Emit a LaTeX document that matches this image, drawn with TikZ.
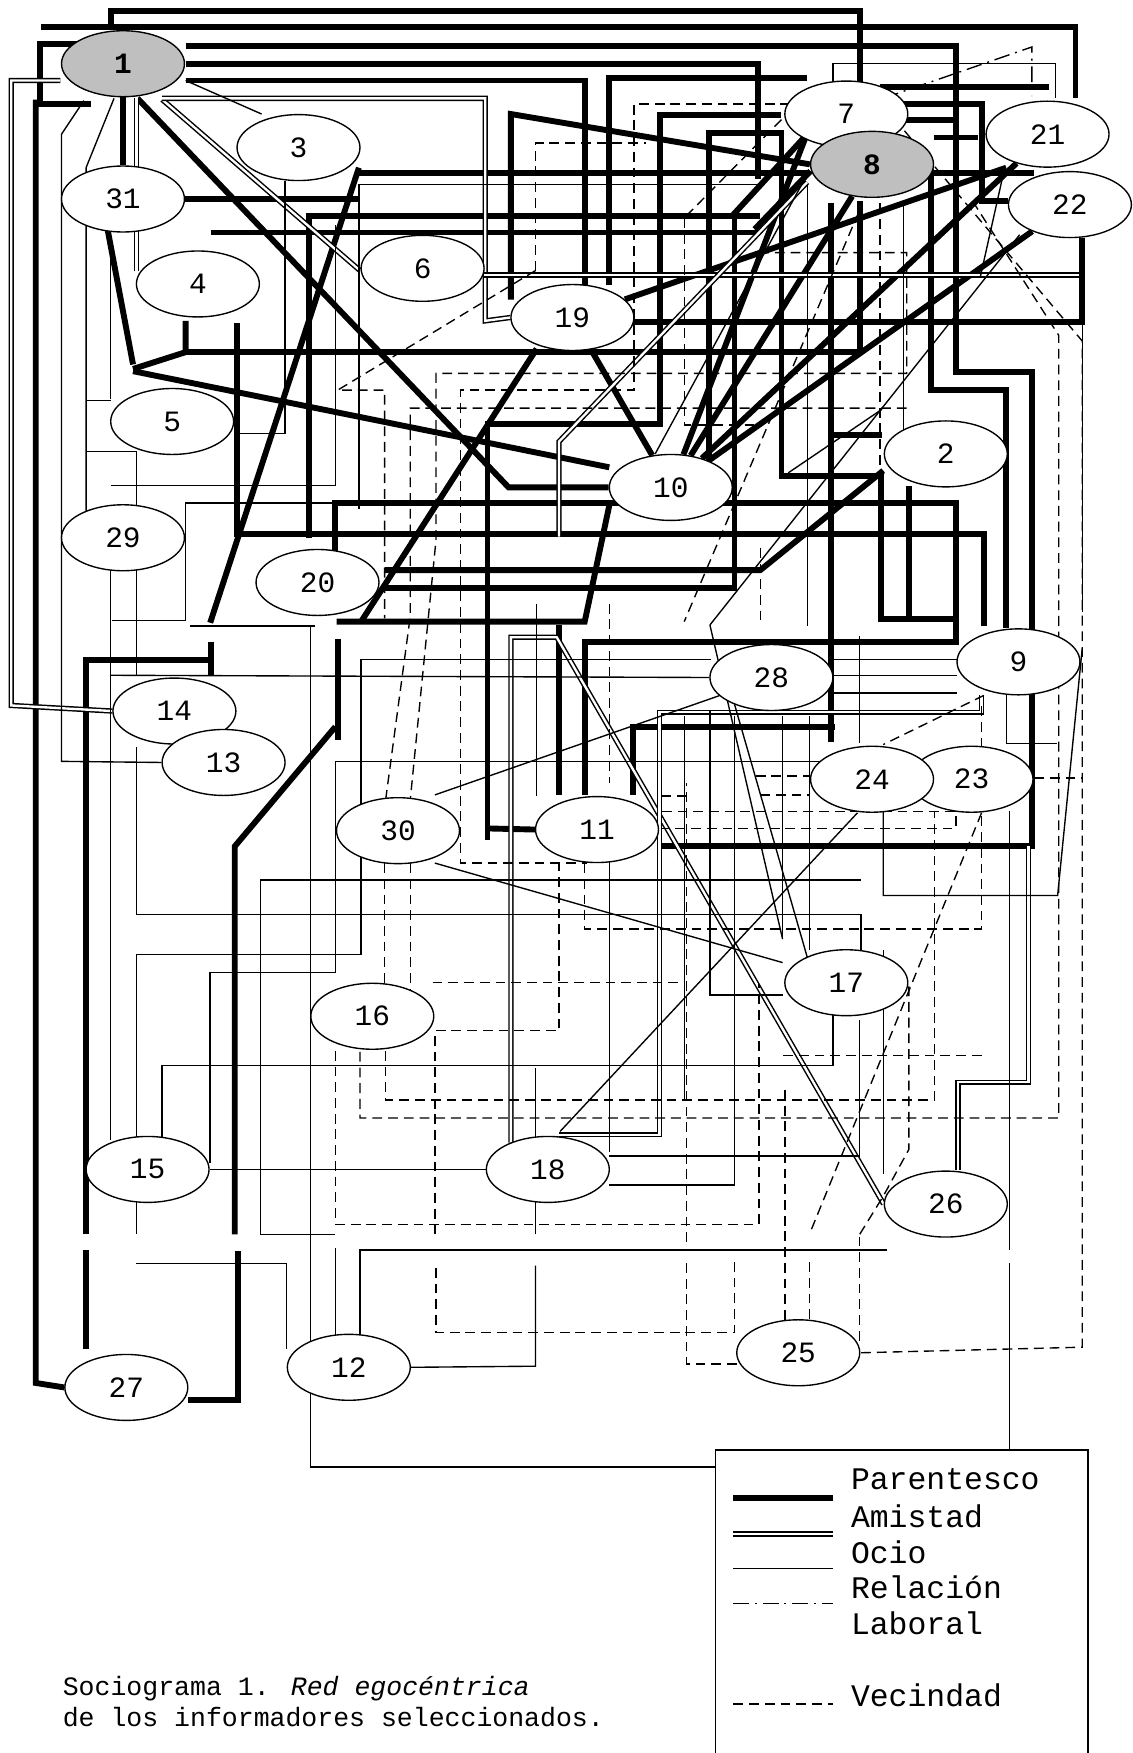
\documentclass[tikz,border=0pt]{standalone}
\usepackage{fontspec}
\setmainfont{Liberation Mono}
\usetikzlibrary{positioning,shapes.geometric,backgrounds}

\begin{document}
\begin{tikzpicture}[x=0.02cm,y=-0.02cm,
  persona/.style={draw,line width=0.7pt,ellipse,fill=white,minimum width=2.2cm,minimum height=1.18cm,inner sep=0pt,font=\fontsize{15}{18}\selectfont},
  ego/.style={persona,fill=black!25,font=\fontsize{15}{18}\selectfont\bfseries},
  par/.style={line width=3pt},
  ami/.style={double,line width=0.75pt,double distance=1.2pt},
  ocio/.style={line width=0.7pt},
  lab/.style={line width=0.7pt,dash pattern=on 8pt off 3pt on 1pt off 3pt},
  vec/.style={line width=0.7pt,dash pattern=on 5pt off 3pt},
  leyenda/.style={anchor=west,font=\fontsize{16}{19}\selectfont}]
\useasboundingbox (0,0) rectangle (1013,1568);

% personas
\node[ego] (n1) at (110,57) {1};
\node[persona] (n3) at (267,132) {3};
\node[persona] (n31) at (110,178) {31};
\node[persona] (n4) at (177,254) {4};
\node[persona] (n6) at (378,240) {6};
\node[persona] (n7) at (757,102) {7};
\node[ego] (n8) at (780,147) {8};
\node[persona] (n21) at (937,120) {21};
\node[persona] (n22) at (957,183) {22};
\node[persona] (n19) at (512,284) {19};
\node[persona] (n5) at (154,377) {5};
\node[persona] (n10) at (600,436) {10};
\node[persona] (n2) at (846,406) {2};
\node[persona] (n29) at (110,481) {29};
\node[persona] (n20) at (284,521) {20};
\node[persona] (n9) at (911,592) {9};
\node[persona] (n28) at (690,606) {28};
\node[persona] (n14) at (156,636) {14};
\node[persona] (n13) at (200,682) {13};
\node[persona] (n23) at (869,697) {23};
\node[persona] (n24) at (780,697) {24};
\node[persona] (n30) at (356,743) {30};
\node[persona] (n11) at (534,742) {11};
\node[persona] (n17) at (757,879) {17};
\node[persona] (n16) at (333,909) {16};
\node[persona] (n15) at (132,1046) {15};
\node[persona] (n18) at (490,1046) {18};
\node[persona] (n26) at (846,1077) {26};
\node[persona] (n25) at (714,1210) {25};
\node[persona] (n12) at (312,1223) {12};
\node[persona] (n27) at (113,1241) {27};

\begin{scope}[on background layer]
% parentesco
\draw[par] (99,25) -- (99,10) -- (769,10) -- (769,74);
\draw[par] (37,24) -- (962,24) -- (962,88);
\draw[par] (166,41) -- (855,41) -- (855,333) -- (923,333) -- (923,757) -- (592,757);
\draw[par] (166,57) -- (678,57) -- (678,160);
\draw[par] (166,72) -- (523,72) -- (523,255);
\draw[par] (545,255) -- (545,70) -- (722,70);
\draw[par] (77,39) -- (36,39) -- (36,93) -- (81,93);
\draw[par] (32,89) -- (32,1237) -- (n27.west);
\draw[par] (n1) -- (n31);
\draw[par] (123,88) -- (455,436) -- (n10.west);
\draw[par] (n31.east) -- (321,178);
\draw[par] (321,155) -- (722,155);
\draw[par] (321,150) -- (188,557);
\draw[par] (276,481) -- (276,193) -- (680,193);
\draw[par] (189,208) -- (680,208);
\draw[par] (457,268) -- (457,102) -- (n8.west);
\draw[par] (n19) -- (900,150);
\draw[par] (566,288) -- (968,288) -- (968,213);
\draw[par] (n19) -- (n10);
\draw[par] (480,312) -- (323,556);
\draw[par] (96,204) -- (119,326);
\draw[par] (119,330) -- (166,315) -- (166,287);
\draw[par] (166,315) -- (769,315) -- (769,180);
\draw[par] (119,332) -- (545,418);
\draw[par] (212,289) -- (212,478) -- (880,478) -- (880,560);
\draw[par] (300,495) -- (300,450) -- (855,450) -- (855,574) -- (523,574) -- (523,711);
\draw[par] (344,510) -- (680,510) -- (790,421);
\draw[par] (344,526) -- (657,526) -- (657,195);
\draw[par] (301,556) -- (523,556) -- (545,452);
\draw[par] (436,751) -- (436,379) -- (590,379) -- (590,103) -- (699,103);
\draw[par] (436,741) -- (n11.west);
\draw[par] (634,413) -- (634,119) -- (699,119) -- (699,426) -- (788,426);
\draw[par] (n10) -- (722,119);
\draw[par] (n10) -- (n8);
\draw[par] (n10) -- (n21);
\draw[par] (n10) -- (n22);
\draw[par] (655,193) -- (722,120);
\draw[par] (675,205) -- (725,153);
\draw[par] (787,78) -- (938,78);
\draw[par] (809,93) -- (878,93) -- (878,180) -- (902,180);
\draw[par] (809,107) -- (855,107);
\draw[par] (835,123) -- (875,123);
\draw[par] (833,155) -- (925,155);
\draw[par] (833,151) -- (833,349) -- (900,349) -- (n9.north -| 900,0);
\draw[par] (743,182) -- (743,664);
\draw[par] (743,389) -- (789,389);
\draw[par] (566,711) -- (566,650) -- (747,650);
\draw[par] (788,421) -- (788,554) -- (857,554);
\draw[par] (813,435) -- (813,556);
\draw[par] (500,559) -- (500,711);
\draw[par] (77,1104) -- (77,590) -- (189,590);
\draw[par] (189,574) -- (189,604);
\draw[par] (77,1118) -- (77,1207);
\draw[par] (210,1104) -- (210,757) -- (300,650);
\draw[par] (302,572) -- (302,662);
\draw[par] (n27.east |- 0,1252) -- (213,1252) -- (213,1119);
% amistad
\draw[ami] (54,72) -- (10,72) -- (10,631) -- (n14.west);
\draw[ami] (145,89) -- (322,242);
\draw[ami] (122,88) -- (122,242);
\draw[ami] (145,88) -- (434,88) -- (434,287) -- (n19.west);
\draw[ami] (433,246) -- (965,246);
\draw[ami] (722,163) -- (500,395) -- (500,480);
\draw[ami] (n26.west) -- (498,570) -- (457,570) -- (457,1022);
\draw[ami] (878,622) -- (878,637) -- (590,637) -- (590,1015) -- (500,1015);
\draw[ami] (920,757) -- (920,968) -- (857,968) -- (n26.north -| 857,0);
% ocio
\draw[ocio] (166,72) -- (234,102);
\draw[ocio] (102,88) -- (77,150) -- (77,467);
\draw[ocio] (55,120) -- (75,90);
\draw[ocio] (55,120) -- (55,681) -- (n13.west);
\draw[ocio] (99,211) -- (99,357);
\draw[ocio] (255,162) -- (255,388) -- (212,388);
\draw[ocio] (680,165) -- (321,165) -- (321,455);
\draw[ocio] (77,358) -- (99,358);
\draw[ocio] (77,404) -- (122,404) -- (122,452);
\draw[ocio] (99,434) -- (300,434) -- (300,201);
\draw[ocio] (100,555) -- (166,555) -- (166,450) -- (300,450);
\draw[ocio] (99,510) -- (99,1020);
\draw[ocio] (122,510) -- (122,604);
\draw[ocio] (170,560) -- (282,560);
\draw[ocio] (278,560) -- (278,1200);
\draw[ocio] (99,604) -- (n28.west);
\draw[ocio] (122,668) -- (122,818) -- (770,818) -- (770,850);
\draw[ocio] (880,681) -- (300,681) -- (300,870) -- (188,870) -- (188,1040);
\draw[ocio] (636,590) -- (323,590) -- (323,854) -- (122,854) -- (122,1020);
\draw[ocio] (770,787) -- (233,787) -- (233,1104) -- (300,1104);
\draw[ocio] (145,1020) -- (145,953) -- (745,953) -- (745,908);
\draw[ocio] (n15.east) -- (n18.west);
\draw[ocio] (122,1075) -- (122,1104);
\draw[ocio] (122,1130) -- (256,1130) -- (256,1207);
\draw[ocio] (n12.east) -- (479,1222) -- (479,1132);
\draw[ocio] (479,1104) -- (479,1075);
\draw[ocio] (479,1017) -- (479,955);
\draw[ocio] (278,1237) -- (278,1312) -- (640,1312);
\draw[ocio] (903,725) -- (903,1118);
\draw[ocio] (903,1130) -- (903,1297);
\draw[ocio] (322,1195) -- (322,1118) -- (793,1118);
\draw[ocio] (300,1195) -- (300,1116);
\draw[ocio] (n28) -- (389,711);
\draw[ocio] (389,772) -- (700,861);
\draw[ocio] (657,630) -- (724,863);
\draw[ocio] (635,559) -- (700,840);
\draw[ocio] (767,727) -- (501,1012);
\draw[ocio] (968,580) -- (946,801) -- (790,801) -- (790,726);
\draw[ocio] (745,590) -- (856,590);
\draw[ocio] (745,604) -- (856,604);
\draw[ocio] (745,620) -- (856,620);
\draw[ocio] (635,635) -- (635,890) -- (700,890);
\draw[ocio] (657,640) -- (657,1060) -- (545,1060);
\draw[ocio] (700,640) -- (700,840);
\draw[ocio] (724,640) -- (724,850);
\draw[ocio] (900,622) -- (900,665) -- (945,665);
\draw[ocio] (586,406) -- (722,156);
\draw[ocio] (705,423) -- (789,366);
\draw[ocio] (635,559) -- (912,210);
\draw[ocio] (898,153) -- (877,247);
\draw[ocio] (745,73) -- (745,57) -- (944,57) -- (944,88);
\draw[ocio] (968,290) -- (968,547);
\draw[ocio] (722,165) -- (722,560);
\draw[ocio] (808,180) -- (808,410);
\draw[ocio] (790,850) -- (790,1050);
\draw[ocio] (769,569) -- (769,665);
\draw[ocio] (612,640) -- (612,985);
\draw[ocio] (545,770) -- (545,1030);
\draw[ocio] (480,540) -- (480,712);
\draw[ocio] (545,1034) -- (769,1034) -- (769,912);
% relacion laboral
\draw[lab] (790,88) -- (923,42) -- (923,86);
% vecindad
\draw[vec] (479,242) -- (479,128) -- (578,128);
\draw[vec] (479,242) -- (302,349) -- (344,349) -- (344,553);
\draw[vec] (679,226) -- (811,226) -- (811,334) -- (390,334) -- (390,483) -- (367,715);
\draw[vec] (735,93) -- (567,93) -- (567,349) -- (412,349) -- (412,772) -- (525,772);
\draw[vec] (811,365) -- (367,365) -- (367,551) -- (345,715);
\draw[vec] (612,195) -- (612,380) -- (678,380);
\draw[vec] (699,107) -- (612,195);
\draw[vec] (768,190) -- (612,556);
\draw[vec] (787,182) -- (787,418);
\draw[vec] (809,117) -- (968,305) -- (968,1205) -- (n25.east);
\draw[vec] (870,180) -- (947,300) -- (947,1000) -- (322,1000) -- (322,940);
\draw[vec] (344,772) -- (344,884);
\draw[vec] (367,772) -- (367,900);
\draw[vec] (300,940) -- (300,1095) -- (679,1095) -- (679,880);
\draw[vec] (345,940) -- (345,984) -- (836,984) -- (836,726);
\draw[vec] (387,879) -- (612,879);
\draw[vec] (389,1104) -- (389,922) -- (500,922) -- (500,772);
\draw[vec] (390,1134) -- (390,1192) -- (657,1192) -- (657,1129);
\draw[vec] (659,1220) -- (614,1220) -- (614,1129);
\draw[vec] (614,1111) -- (614,700);
\draw[vec] (702,975) -- (702,1181);
\draw[vec] (724,1129) -- (724,1181);
\draw[vec] (769,1106) -- (769,1200);
\draw[vec] (878,727) -- (724,1104);
\draw[vec] (769,1104) -- (790,1070) -- (813,1028) -- (813,880);
\draw[vec] (880,622) -- (790,666);
\draw[vec] (925,696) -- (968,696);
\draw[vec] (676,694) -- (724,694);
\draw[vec] (680,711) -- (724,711);
\draw[vec] (614,712) -- (592,712);
\draw[vec] (592,726) -- (855,726) -- (855,741) -- (592,741);
\draw[vec] (523,772) -- (523,831) -- (878,831) -- (878,630);
\draw[vec] (878,944) -- (697,944);
\draw[vec] (545,540) -- (545,700);
\draw[vec] (680,490) -- (680,560);
\end{scope}

% leyenda
\draw[ocio] (640,1568) -- (640,1297) -- (973,1297) -- (973,1568);
\draw[par] (656,1340) -- (745,1340);
\draw[ami] (656,1372) -- (745,1372);
\draw[ocio] (656,1403) -- (745,1403);
\draw[lab] (656,1434) -- (745,1434);
\draw[vec] (656,1524) -- (745,1524);
\node[leyenda] (tpar) at (755,1323) {Parentesco};
\node[leyenda] (tami) at (755,1356) {Amistad};
\node[leyenda] (toci) at (755,1388) {Ocio};
\node[leyenda] (tlab) at (755,1420) {Relación};
\node[leyenda] (tlab2) at (755,1452) {Laboral};
\node[leyenda] (tvec) at (755,1516) {Vecindad};
% pie
\node[anchor=west,font=\fontsize{13.5}{16}\selectfont,align=left] (pie) at (50,1522)
  {Sociograma 1. \textit{Red egocéntrica}\\de los informadores seleccionados.};
\end{tikzpicture}
\end{document}
